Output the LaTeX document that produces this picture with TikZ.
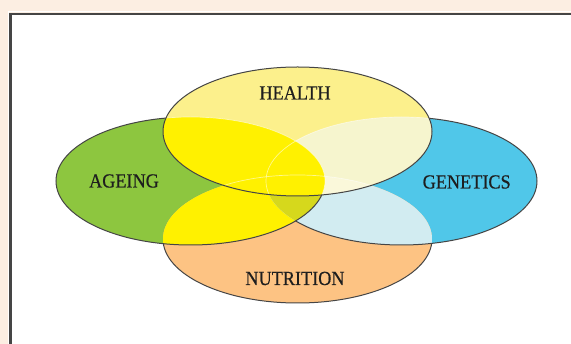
\documentclass[tikz,border=0pt]{standalone}
\usepackage{fontspec}
\setmainfont{Liberation Serif}
\newfontface\lblfont{Liberation Serif}[FakeBold=0.5]
\definecolor{bgbeige}{HTML}{FCEEE2}
\definecolor{agegreen}{HTML}{8DC63F}
\definecolor{genblue}{HTML}{50C7E9}
\definecolor{nutorange}{HTML}{FDC383}
\definecolor{healthyel}{HTML}{FCF08C}
\definecolor{brightyel}{HTML}{FFF100}
\definecolor{creamcol}{HTML}{F6F5CE}
\definecolor{creamlight}{HTML}{FAF8DA}
\definecolor{paleblue}{HTML}{D2ECF1}
\definecolor{olivecol}{HTML}{D6D81C}
\definecolor{edgecol}{HTML}{454545}
\definecolor{textcol}{HTML}{1E1E1E}
\begin{document}
\begin{tikzpicture}[x=1pt,y=-1pt,
  lbl/.style={font=\lblfont\fontsize{20}{24}\selectfont, text=textcol, xscale=0.91, inner sep=0pt, anchor=base},
  rim/.style={draw=edgecol, line width=1pt},
  faintrim/.style={draw=white, line width=0.7pt, opacity=0.55}]
\def\Hp{(297.5,131.5) ellipse [x radius=134.5, y radius=64.5]}
\def\Ap{(190.5,181) ellipse [x radius=134.5, y radius=64]}
\def\Gp{(401.5,181) ellipse [x radius=135.5, y radius=64]}
\def\Np{(297.5,239) ellipse [x radius=134.5, y radius=64]}
\def\Frame{(-10,-10) rectangle (600,400)}
\useasboundingbox (0,0) rectangle (571,344);
\begin{scope}
\clip (0,0) rectangle (571,344);
% background and frame
\fill[bgbeige] (0,0) rectangle (571,344);
\fill[white] (10.5,14) rectangle (600,400);
\draw[white, line width=0.8pt] (8.4,11.9) rectangle (600,400);
\draw[edgecol, line width=2.4pt] (10.5,14) rectangle (600,400);
% base fills
\fill[agegreen] \Ap;
\fill[genblue] \Gp;
\fill[nutorange] \Np;
\begin{scope} \clip \Ap; \fill[brightyel] \Np; \end{scope}
\begin{scope} \clip \Gp; \fill[paleblue] \Np; \end{scope}
\begin{scope} \clip \Ap; \clip \Gp; \fill[olivecol] \Np; \end{scope}
% outlines outside health
\begin{scope}[even odd rule]
  \clip \Frame \Hp;
  \draw[rim] \Ap;
  \begin{scope}[even odd rule]
    \clip \Frame \Ap;
    \draw[rim] \Gp;
    \begin{scope}[even odd rule]
      \clip \Frame \Gp;
      \draw[rim] \Np;
    \end{scope}
  \end{scope}
\end{scope}
% health fills
\fill[healthyel] \Hp;
\begin{scope} \clip \Hp; \fill[creamcol] \Gp; \end{scope}
\begin{scope} \clip \Hp; \clip \Gp; \fill[creamlight] \Np; \end{scope}
\begin{scope} \clip \Hp; \fill[brightyel] \Ap; \end{scope}
\begin{scope} \clip \Hp;
  \draw[faintrim] \Ap;
  \draw[faintrim] \Gp;
  \draw[faintrim] \Np;
\end{scope}
\draw[rim] \Hp;
\end{scope}
% labels
\node[lbl] (health) at (295,99.5) {HEALTH};
\node[lbl] (ageing) at (124,187.5) {AGEING};
\node[lbl] (genetics) at (466.7,188.5) {GENETICS};
\node[lbl] (nutrition) at (295,285) {NUTRITION};
\end{tikzpicture}
\end{document}
